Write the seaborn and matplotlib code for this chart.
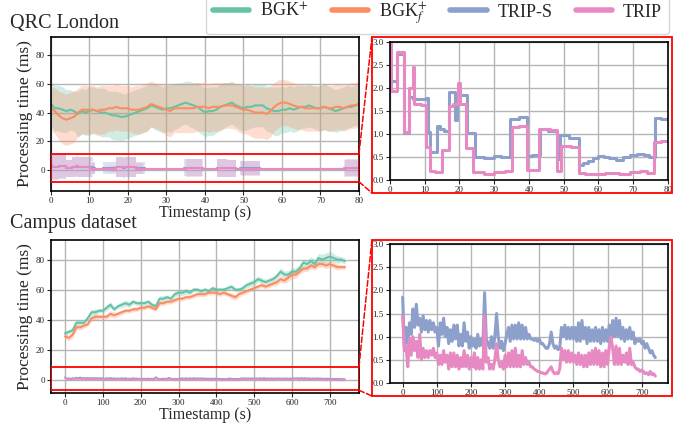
import numpy as np
import pandas as pd
import matplotlib
matplotlib.use('Agg')
import matplotlib.pyplot as plt
import seaborn as sns
from matplotlib.lines import Line2D
from matplotlib.patches import Rectangle, ConnectionPatch

# ---- QRC London (1 s grid, 0..80 s) ----
qrc_bgk = [46, 43, 43, 42, 41, 42, 41, 39, 41, 40,
           41, 42, 41, 40, 40, 39, 38, 38, 37, 37,
           38, 39, 40, 41, 42, 43, 45, 44, 43, 42,
           43, 43, 44, 45, 46, 47, 46, 45, 44, 42,
           40, 41, 41, 42, 44, 45, 46, 47, 45, 44,
           43, 44, 44, 45, 45, 45, 43, 42, 41, 41,
           42, 42, 43, 42, 43, 44, 44, 45, 44, 43,
           43, 44, 43, 42, 41, 42, 43, 44, 44, 45, 46]
qrc_bgk_sd = [15, 16, 16, 16, 15, 14, 14, 16, 16, 16,
              17, 16, 16, 17, 17, 16, 17, 17, 17, 16,
              16, 16, 16, 16, 16, 16, 15, 16, 16, 16,
              16, 17, 16, 16, 15, 15, 16, 16, 17, 17,
              17, 17, 17, 16, 16, 16, 15, 15, 15, 16,
              16, 16, 15, 15, 15, 15, 16, 16, 17, 17,
              16, 16, 16, 16, 16, 15, 15, 15, 15, 15,
              16, 16, 16, 15, 15, 15, 15, 15, 14, 14, 15]
qrc_bgkf = [43, 41, 38, 36, 35, 36, 37, 40, 42, 42,
            42, 42, 41, 42, 42, 43, 43, 44, 43, 43,
            43, 42, 42, 42, 43, 44, 46, 45, 44, 43,
            42, 41, 43, 43, 43, 43, 43, 43, 44, 44,
            44, 43, 44, 44, 44, 45, 45, 45, 44, 43,
            42, 42, 41, 40, 40, 40, 39, 41, 44, 46,
            47, 47, 46, 45, 44, 44, 43, 43, 43, 43,
            43, 44, 43, 43, 44, 44, 43, 44, 45, 45, 46]
qrc_bgkf_sd = [15, 16, 17, 18, 18, 18, 18, 17, 17, 17,
               17, 17, 17, 17, 17, 16, 16, 16, 16, 16,
               16, 16, 17, 17, 17, 17, 16, 16, 16, 17,
               18, 18, 17, 17, 17, 17, 17, 17, 17, 17,
               17, 17, 17, 17, 17, 16, 16, 16, 16, 17,
               17, 17, 18, 18, 18, 18, 18, 18, 17, 17,
               16, 16, 16, 16, 16, 16, 16, 16, 16, 16,
               16, 16, 16, 16, 16, 16, 16, 16, 16, 16, 16]

# TRIP-S / TRIP: step breakpoints (time s, value ms, spread ms)
qrc_trips_t = [0, 2, 4, 5.5, 6.5, 10.5, 11, 11.5, 13.5, 14.5,
               15.5, 17, 18.6, 19.2, 19.7, 20.2, 22.1, 24.5, 27, 30,
               32, 34.6, 37, 39.4, 41, 43.1, 45.5, 48, 49, 51.4,
               54.3, 55.5, 57, 58.5, 60, 61.5, 63, 65, 67, 69,
               71, 73, 74.5, 76.4, 78, 80]
qrc_trips_v = [2.15, 2.75, 1.02, 1.8, 1.76, 1.78, 1.05, 0.6, 1.17, 1.12,
               1.06, 1.92, 1.3, 1.75, 1.9, 1.85, 1.02, 0.5, 0.48, 0.52,
               0.5, 1.33, 1.36, 0.52, 0.54, 1.1, 1.07, 0.45, 0.97, 0.92,
               0.33, 0.37, 0.42, 0.47, 0.52, 0.5, 0.47, 0.43, 0.5, 0.55,
               0.57, 0.54, 0.5, 1.35, 1.33, 1.38]
qrc_trips_sd = [9, 9, 6, 7, 7, 7, 4, 0.5, 4, 4,
                4, 7, 7, 7, 7, 7, 4, 0.3, 0.3, 0.3,
                0.3, 6, 6, 0.3, 0.3, 6, 6, 0.5, 5, 5,
                0.3, 0.3, 0.3, 0.3, 0.3, 0.3, 0.3, 0.3, 0.3, 0.3,
                0.3, 0.3, 0.3, 6, 6, 6]
qrc_trip_t = [0, 0.3, 2, 4, 5.5, 6.5, 7, 9, 10.5, 11.5,
              13, 15, 17, 18, 19.5, 20.2, 22, 24, 27, 30,
              33, 35, 37, 39.3, 41, 43, 46, 48, 49.3, 52,
              54.3, 56, 58, 62, 66, 69, 72, 74, 76, 78, 80]
qrc_trip_v = [3.0, 1.93, 2.78, 1.05, 2.0, 2.45, 1.65, 1.63, 0.72, 0.2,
              0.18, 0.65, 1.6, 1.65, 2.1, 1.65, 0.7, 0.17, 0.13, 0.17,
              0.2, 1.15, 1.17, 0.22, 0.22, 1.1, 1.08, 0.2, 0.75, 0.72,
              0.15, 0.12, 0.14, 0.15, 0.14, 0.18, 0.2, 0.15, 0.82, 0.85, 0.85]
qrc_trip_sd = [9, 9, 9, 6, 7, 7, 7, 7, 4, 0.5,
               0.5, 2, 7, 7, 7, 7, 4, 0.3, 0.3, 0.3,
               0.3, 6, 6, 0.3, 0.3, 6, 6, 0.5, 5, 5,
               0.3, 0.3, 0.3, 0.3, 0.3, 0.3, 0.3, 0.3, 6, 6, 6]

# ---- Campus dataset (10 s grid for BGK, 5 s grid for TRIP, 0..740 s) ----
campus_bgk = [31, 32, 33, 38, 38, 38, 41, 45, 45, 46,
              46, 48, 50, 47, 49, 50, 51, 50, 52, 51,
              51, 51, 52, 50, 49, 54, 54, 55, 54, 57,
              58, 58, 59, 58, 60, 60, 59, 60, 59, 61,
              60, 60, 60, 61, 62, 60, 60, 61, 63, 64,
              65, 67, 66, 65, 66, 67, 69, 72, 70, 70,
              72, 72, 74, 78, 77, 79, 77, 81, 80, 81,
              82, 81, 80, 80, 79]
campus_bgk_sd = [1.5, 1.5, 1.5, 2, 2, 1.5, 1.5, 2, 2, 1.5,
                 1.5, 2, 2, 1.5, 1.5, 2, 2, 2, 1.5, 1.5,
                 1.5, 1.5, 1.5, 1.5, 1.5, 2, 2, 1.5, 1.5, 2,
                 2, 2, 2, 1.5, 1.5, 1.5, 1.5, 1.5, 1.5, 1.5,
                 1.5, 1.5, 1.5, 1.5, 1.5, 1.5, 1.5, 1.5, 2, 2,
                 2, 2, 2, 2, 2, 2, 2, 2.5, 2.5, 2.5,
                 2.5, 2.5, 2.5, 2.5, 2.5, 3, 3, 3, 3.5, 3.5,
                 3.5, 3, 2.5, 2, 2]
campus_bgkf = [29, 28, 30, 35, 35, 36, 37, 41, 42, 42,
               42, 42, 44, 43, 44, 45, 46, 46, 47, 47,
               48, 48, 49, 48, 47, 51, 51, 52, 52, 53,
               54, 54, 55, 55, 56, 57, 57, 57, 58, 58,
               58, 57, 58, 57, 56, 55, 57, 58, 59, 60,
               61, 62, 63, 62, 63, 64, 65, 67, 66, 68,
               70, 70, 72, 74, 74, 76, 75, 77, 77, 76,
               77, 76, 75, 75, 75]
campus_bgkf_sd = [1.5, 2, 2, 2, 1.5, 1.5, 1.5, 2, 2, 1.5,
                  1.5, 1.5, 2, 2, 1.5, 1.5, 1.5, 1.5, 1.5, 1.5,
                  1.5, 1.5, 1.5, 1.5, 1.5, 1.5, 1.5, 1.5, 1.5, 1.5,
                  1.5, 1.5, 1.5, 1.5, 1.5, 1.5, 1.5, 1.5, 1.5, 1.5,
                  1.5, 1.5, 1.5, 1.5, 2, 2, 2, 1.5, 1.5, 1.5,
                  1.5, 1.5, 1.5, 1.5, 1.5, 1.5, 2, 2, 2, 2.5,
                  2.5, 2.5, 2, 2, 2, 2, 2, 2, 2, 2,
                  2, 2, 2, 1.5, 1.5]
campus_trips = [1.85, 0.8, 1.2, 0.85, 1.3, 1.05, 1.6, 1.2, 1.7, 1.25,
                1.4, 1.1, 1.45, 1.15, 1.35, 1.1, 1.35, 1.15, 1.3, 1.1,
                1.2, 0.8, 1.3, 1.05, 1.4, 1.0, 1.2, 0.85, 1.15, 0.9,
                1.25, 0.95, 1.25, 0.8, 1.05, 0.8, 1.3, 0.9, 1.1, 0.75,
                1.0, 0.8, 0.95, 0.75, 1.05, 0.8, 0.95, 0.8, 1.95, 0.95,
                0.85, 0.75, 1.0, 0.75, 1.0, 1.5, 1.0, 0.75, 0.9, 0.7,
                0.85, 1.05, 1.2, 0.9, 1.25, 0.95, 1.25, 0.95, 1.3, 0.95,
                1.25, 0.95, 1.2, 0.95, 1.05, 0.95, 0.95, 0.92, 0.95, 0.9,
                0.95, 0.85, 0.85, 0.8, 0.75, 0.75, 0.85, 1.1, 0.85, 0.75,
                0.8, 0.72, 0.75, 1.2, 1.0, 1.25, 0.95, 1.2, 0.95, 1.2,
                0.95, 1.2, 0.9, 1.3, 0.9, 1.35, 0.95, 1.2, 0.85, 1.2,
                0.9, 1.15, 0.9, 1.2, 0.9, 1.15, 0.85, 1.2, 0.9, 1.15,
                0.9, 1.25, 0.95, 1.35, 1.0, 1.4, 1.0, 1.35, 0.95, 1.2,
                0.9, 1.15, 0.95, 1.2, 0.95, 1.1, 0.85, 0.95, 0.9, 0.95,
                0.85, 0.9, 0.75, 0.85, 0.75, 0.65, 0.7, 0.6, 0.55]
campus_trip = [1.45, 0.7, 0.8, 0.35, 0.95, 0.6, 1.0, 0.7, 0.9, 0.55,
               1.05, 0.5, 0.75, 0.55, 0.7, 0.55, 0.7, 0.6, 0.75, 0.55,
               0.65, 0.4, 0.6, 0.4, 0.7, 0.45, 0.6, 0.3, 0.65, 0.35,
               0.65, 0.35, 0.6, 0.3, 0.55, 0.35, 0.7, 0.35, 0.6, 0.3,
               0.55, 0.35, 0.65, 0.3, 0.55, 0.3, 0.5, 0.3, 1.45, 0.45,
               0.55, 0.3, 0.4, 0.3, 0.5, 0.85, 0.5, 0.35, 0.45, 0.3,
               0.6, 0.35, 0.65, 0.35, 0.7, 0.35, 0.75, 0.35, 0.6, 0.35,
               0.7, 0.4, 0.55, 0.4, 0.45, 0.35, 0.35, 0.3, 0.28, 0.25,
               0.25, 0.22, 0.22, 0.2, 0.2, 0.25, 0.3, 0.35, 0.25, 0.2,
               0.22, 0.2, 0.3, 0.75, 0.5, 0.7, 0.45, 0.7, 0.45, 0.65,
               0.45, 0.6, 0.4, 0.65, 0.4, 0.6, 0.35, 0.6, 0.35, 0.65,
               0.4, 0.7, 0.4, 0.75, 0.4, 0.7, 0.35, 0.65, 0.35, 0.7,
               0.4, 0.75, 1.0, 0.75, 0.4, 0.8, 0.4, 0.75, 0.4, 0.6,
               0.45, 0.65, 0.4, 0.75, 0.4, 0.45, 0.35, 0.3, 0.3, 0.25,
               0.28, 0.25, 0.2, 0.22, 0.18, 0.25, 0.18, 0.2, 0.15]
campus_trip_sd = 0.8

labels = ['BGK$^{+}$', 'BGK$_{f}^{+}$', 'TRIP-S', 'TRIP']

sns.set_style('ticks')
plt.rcParams['font.family'] = ['Liberation Serif', 'DejaVu Serif']
plt.rcParams['mathtext.fontset'] = 'stix'
plt.rcParams['axes.linewidth'] = 1.2

colors = sns.color_palette('Set2', 4)
c_bgk, c_bgkf, c_trips, c_trip = colors


def band_line(ax, t, mean, sd, color, lw, step=False, alpha=0.35):
    t = np.asarray(t, float)
    mean = np.asarray(mean, float)
    sd = np.asarray(sd, float)
    ax.fill_between(t, mean - sd, mean + sd, color=color, alpha=alpha, lw=0,
                    step='post' if step else None)
    sns.lineplot(x=t, y=mean, ax=ax, color=color, lw=lw, estimator=None, sort=False,
                 drawstyle='steps-post' if step else 'default')


def plain_line(ax, t, vals, color, lw, step=False):
    sns.lineplot(x=np.asarray(t, float), y=np.asarray(vals, float), ax=ax, color=color,
                 lw=lw, estimator=None, sort=False,
                 drawstyle='steps-post' if step else 'default')


def style(ax):
    ax.grid(True, color='#b5b5b5', lw=1.0)
    ax.set_axisbelow(True)
    for s in ax.spines.values():
        s.set_visible(True)
        s.set_color('black')
        s.set_linewidth(1.2)
    ax.tick_params(labelsize=6.5, length=3, width=0.8, pad=1.5)


fig = plt.figure(figsize=(6.91, 4.28), dpi=100)
ax_q = fig.add_axes([0.0738, 0.5537, 0.4457, 0.36])
ax_qz = fig.add_axes([0.5644, 0.5794, 0.4023, 0.3224])
ax_c = fig.add_axes([0.0738, 0.0818, 0.4457, 0.3575])
ax_cz = fig.add_axes([0.5644, 0.1051, 0.4023, 0.3248])

# QRC London overview
t_q = np.arange(len(qrc_bgk))
band_line(ax_q, t_q, qrc_bgk, qrc_bgk_sd, c_bgk, 1.5, alpha=0.3)
band_line(ax_q, t_q, qrc_bgkf, qrc_bgkf_sd, c_bgkf, 1.5, alpha=0.3)
band_line(ax_q, qrc_trips_t, qrc_trips_v, qrc_trips_sd, c_trips, 1.5, step=True, alpha=0.3)
band_line(ax_q, qrc_trip_t, qrc_trip_v, qrc_trip_sd, c_trip, 1.5, step=True, alpha=0.3)
ax_q.set_xlim(0, 80)
ax_q.set_ylim(-15, 93)
ax_q.set_xticks(range(0, 81, 10))
ax_q.set_yticks(range(0, 81, 20))
ax_q.set_xlabel('Timestamp (s)', fontsize=11.5, labelpad=0)
ax_q.set_ylabel('Processing time (ms)', fontsize=12.5, labelpad=2)
style(ax_q)
ax_q.axhspan(-8.5, 11, fc='none', ec='red', lw=1.3, zorder=6)

# QRC London zoom
plain_line(ax_qz, qrc_trips_t, qrc_trips_v, c_trips, 2.2, step=True)
plain_line(ax_qz, qrc_trip_t, qrc_trip_v, c_trip, 2.2, step=True)
ax_qz.set_xlim(0, 80)
ax_qz.set_ylim(0, 3)
ax_qz.set_xticks(range(0, 81, 10))
ax_qz.set_yticks(np.arange(0, 3.01, 0.5))
style(ax_qz)

# Campus overview
t_c = np.arange(len(campus_bgk)) * 10
t_c5 = np.arange(len(campus_trips)) * 5
band_line(ax_c, t_c, campus_bgk, campus_bgk_sd, c_bgk, 1.5, alpha=0.3)
band_line(ax_c, t_c, campus_bgkf, campus_bgkf_sd, c_bgkf, 1.5, alpha=0.3)
band_line(ax_c, t_c5, campus_trips, campus_trip_sd, c_trips, 1.2, alpha=0.3)
band_line(ax_c, t_c5, campus_trip, campus_trip_sd, c_trip, 1.2, alpha=0.3)
ax_c.set_xlim(-37, 777)
ax_c.set_ylim(-8.6, 93)
ax_c.set_xticks(range(0, 701, 100))
ax_c.set_yticks(range(0, 81, 20))
ax_c.set_xlabel('Timestamp (s)', fontsize=11.5, labelpad=0)
ax_c.set_ylabel('Processing time (ms)', fontsize=12.5, labelpad=2)
style(ax_c)
ax_c.axhspan(-6.8, 8.8, fc='none', ec='red', lw=1.3, zorder=6)

# Campus zoom
plain_line(ax_cz, t_c5, campus_trips, c_trips, 2.2)
plain_line(ax_cz, t_c5, campus_trip, c_trip, 2.2)
ax_cz.set_xlim(-37, 777)
ax_cz.set_ylim(0, 3)
ax_cz.set_xticks(range(0, 701, 100))
ax_cz.set_yticks(np.arange(0, 3.01, 0.5))
style(ax_cz)

# red frames round the zoom panels and dashed connectors
for fy, ax_src, (ylo, yhi) in [(0.549, ax_q, (-8.5, 11)), (0.0748, ax_c, (-6.8, 8.8))]:
    fx, fw, fh = 0.5383, 0.4342, 0.3645
    fig.add_artist(Rectangle((fx, fy), fw, fh, transform=fig.transFigure,
                             fill=False, ec='red', lw=1.3))
    for yv, yf in [(yhi, fy + fh), (ylo, fy)]:
        con = ConnectionPatch(xyA=(1, yv), coordsA=ax_src.get_yaxis_transform(),
                              xyB=(fx, yf), coordsB=fig.transFigure,
                              color='red', ls='--', lw=1.1)
        fig.add_artist(con)

fig.text(0.0145, 0.9346, 'QRC London', fontsize=14.5, va='baseline')
fig.text(0.0145, 0.4673, 'Campus dataset', fontsize=14.5, va='baseline')

handles = [Line2D([], [], color=c, lw=4) for c in colors]
fig.legend(handles, labels, loc='center', bbox_to_anchor=(0.633, 0.968), ncol=4,
           fontsize=13, handlelength=2.0, columnspacing=1.3, handletextpad=0.6,
           frameon=True, fancybox=True, borderaxespad=0, borderpad=0.4)

fig.savefig('out.png', dpi=100)
